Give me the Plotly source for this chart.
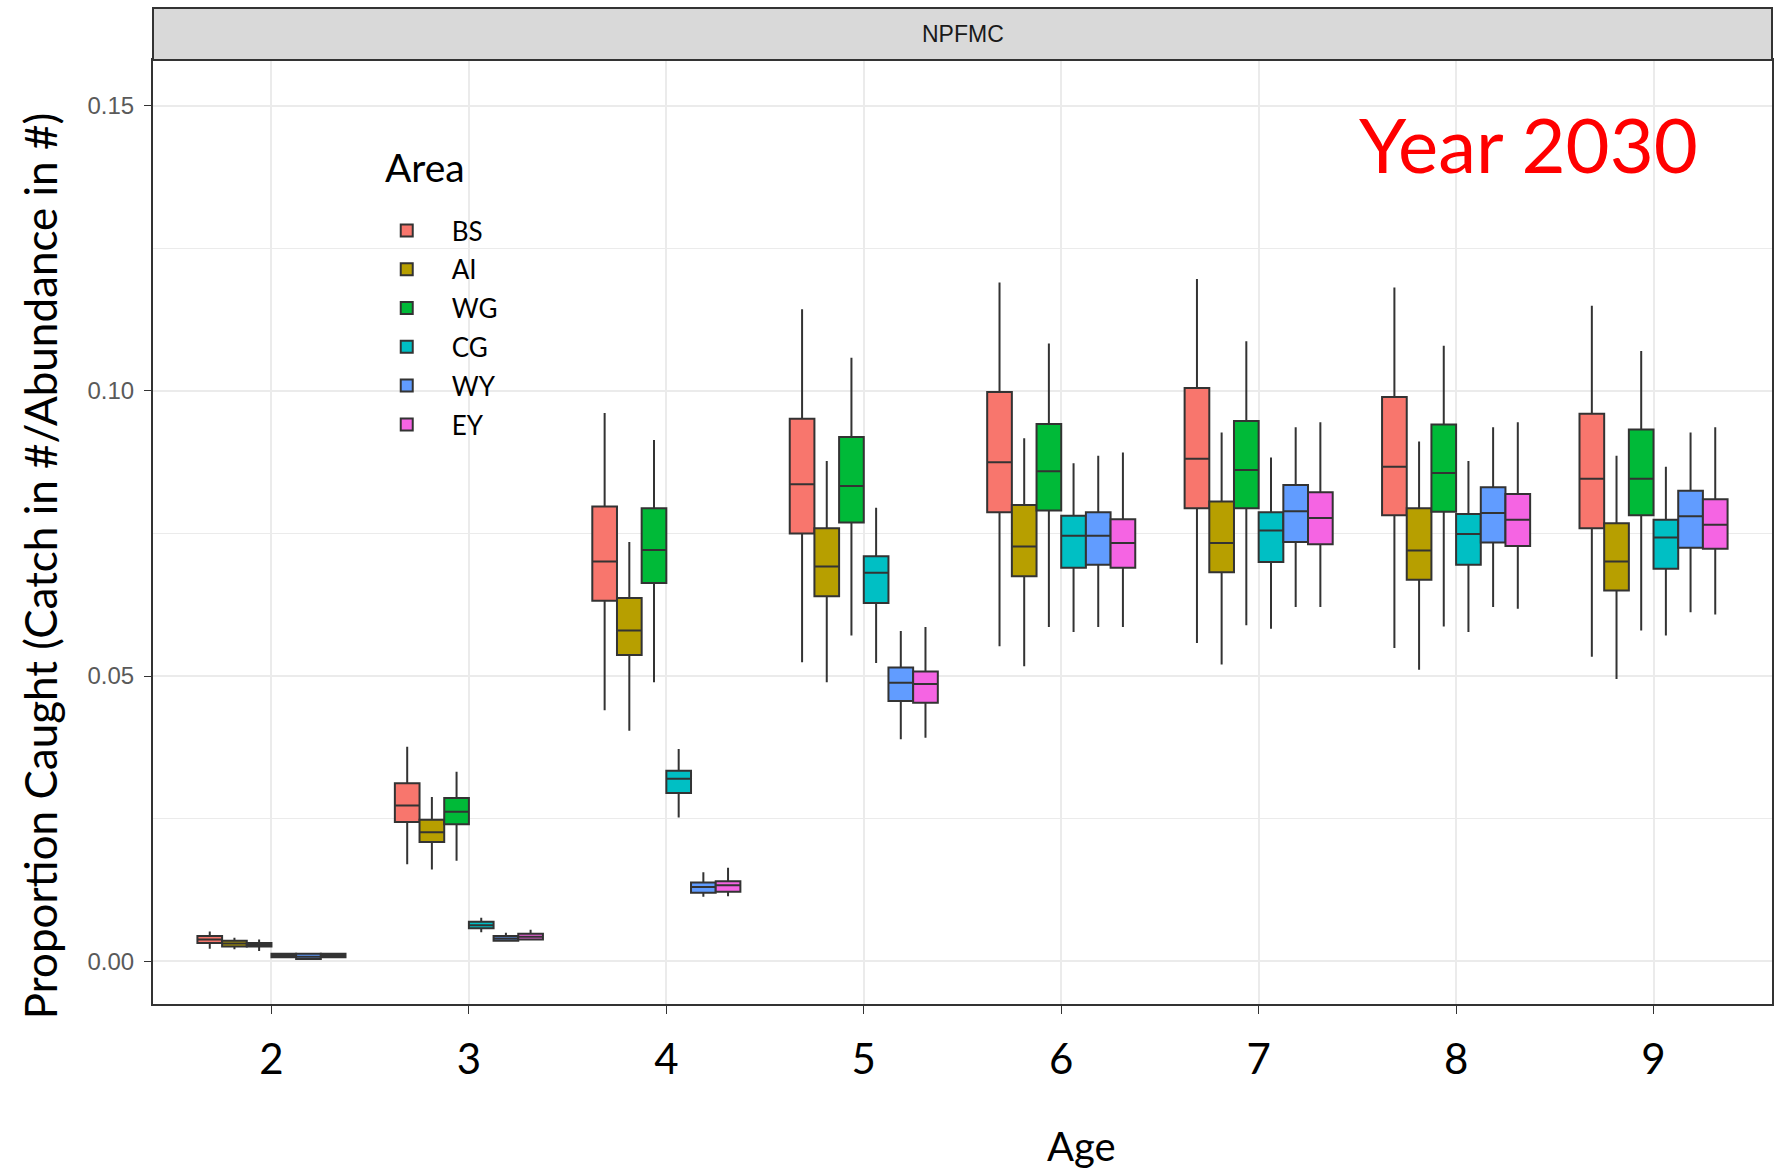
import plotly.graph_objects as go

# Ages on the x axis
ages = [2, 3, 4, 5, 6, 7, 8, 9]

# Areas and their fill colours
areas = ["BS", "AI", "WG", "CG", "WY", "EY"]
area_colors = ["#F8766D", "#B79F00", "#00BA38", "#00BFC4", "#619CFF", "#F564E3"]

# Box-plot statistics per area (proportion caught), one value per age 2..9
lower_whisker = {
    "BS": [0.0022, 0.0170, 0.0440, 0.0524, 0.0552, 0.0558, 0.0549, 0.0534],
    "AI": [0.0021, 0.0161, 0.0404, 0.0489, 0.0517, 0.0520, 0.0511, 0.0495],
    "WG": [0.0018, 0.0176, 0.0489, 0.0571, 0.0586, 0.0589, 0.0587, 0.0580],
    "CG": [0.0006, 0.0051, 0.0252, 0.0523, 0.0577, 0.0583, 0.0577, 0.0571],
    "WY": [0.0002, 0.0035, 0.0113, 0.0389, 0.0586, 0.0621, 0.0621, 0.0612],
    "EY": [0.0005, 0.0037, 0.0114, 0.0392, 0.0586, 0.0621, 0.0618, 0.0608],
}
quartile_1 = {
    "BS": [0.0032, 0.0244, 0.0632, 0.0750, 0.0787, 0.0794, 0.0782, 0.0759],
    "AI": [0.0026, 0.0209, 0.0537, 0.0640, 0.0675, 0.0682, 0.0669, 0.0650],
    "WG": [0.0026, 0.0240, 0.0663, 0.0769, 0.0790, 0.0794, 0.0788, 0.0782],
    "CG": [0.0007, 0.0058, 0.0295, 0.0628, 0.0690, 0.0700, 0.0695, 0.0688],
    "WY": [0.0004, 0.0036, 0.0120, 0.0456, 0.0695, 0.0735, 0.0734, 0.0725],
    "EY": [0.0007, 0.0038, 0.0122, 0.0453, 0.0690, 0.0731, 0.0728, 0.0723],
}
medians = {
    "BS": [0.0038, 0.0273, 0.0701, 0.0836, 0.0875, 0.0881, 0.0867, 0.0846],
    "AI": [0.0031, 0.0226, 0.0580, 0.0692, 0.0727, 0.0733, 0.0720, 0.0701],
    "WG": [0.0029, 0.0262, 0.0721, 0.0833, 0.0859, 0.0861, 0.0856, 0.0846],
    "CG": [0.0010, 0.0063, 0.0320, 0.0681, 0.0746, 0.0755, 0.0749, 0.0743],
    "WY": [0.0008, 0.0040, 0.0130, 0.0488, 0.0746, 0.0789, 0.0786, 0.0780],
    "EY": [0.0010, 0.0043, 0.0133, 0.0486, 0.0733, 0.0777, 0.0774, 0.0765],
}
quartile_3 = {
    "BS": [0.0044, 0.0312, 0.0797, 0.0951, 0.0998, 0.1005, 0.0989, 0.0960],
    "AI": [0.0036, 0.0248, 0.0637, 0.0759, 0.0800, 0.0806, 0.0794, 0.0768],
    "WG": [0.0032, 0.0286, 0.0794, 0.0919, 0.0942, 0.0947, 0.0941, 0.0932],
    "CG": [0.0013, 0.0069, 0.0334, 0.0710, 0.0781, 0.0787, 0.0784, 0.0774],
    "WY": [0.0013, 0.0044, 0.0138, 0.0515, 0.0787, 0.0835, 0.0831, 0.0825],
    "EY": [0.0013, 0.0048, 0.0140, 0.0508, 0.0775, 0.0822, 0.0819, 0.0810],
}
upper_whisker = {
    "BS": [0.0052, 0.0376, 0.0961, 0.1143, 0.1190, 0.1196, 0.1181, 0.1149],
    "AI": [0.0041, 0.0288, 0.0735, 0.0877, 0.0917, 0.0927, 0.0911, 0.0886],
    "WG": [0.0038, 0.0332, 0.0914, 0.1058, 0.1083, 0.1087, 0.1079, 0.1070],
    "CG": [0.0014, 0.0076, 0.0372, 0.0795, 0.0873, 0.0883, 0.0877, 0.0867],
    "WY": [0.0015, 0.0050, 0.0156, 0.0579, 0.0886, 0.0936, 0.0936, 0.0927],
    "EY": [0.0015, 0.0055, 0.0164, 0.0586, 0.0892, 0.0945, 0.0945, 0.0936],
}

y_ticks = [0.0, 0.05, 0.10, 0.15]
y_tick_text = ["0.00", "0.05", "0.10", "0.15"]

W, H = 1777, 1174
M_L, M_R, M_T, M_B = 153, 3, 60, 170
plot_w = W - M_L - M_R
plot_h = H - M_T - M_B


def px_x(px):
    return (px - M_L) / plot_w


def px_y(py):
    return (H - M_B - py) / plot_h


fig = go.Figure()
for area, color in zip(areas, area_colors):
    fig.add_trace(go.Box(
        x=ages,
        lowerfence=lower_whisker[area],
        q1=quartile_1[area],
        median=medians[area],
        q3=quartile_3[area],
        upperfence=upper_whisker[area],
        name=area,
        legendgroup=area,
        fillcolor=color,
        line=dict(color="#333333", width=2),
        whiskerwidth=0,
        boxpoints=False,
    ))

grid = "#EBEBEB"
fig.update_layout(
    width=W, height=H,
    margin=dict(l=M_L, r=M_R, t=M_T, b=M_B),
    paper_bgcolor="white",
    plot_bgcolor="white",
    boxmode="group",
    boxgap=0.25,
    boxgroupgap=0,
    font=dict(family="Lato", color="black"),
    xaxis=dict(
        range=[1.4, 9.6],
        tickvals=ages,
        ticktext=[str(a) for a in ages],
        tickfont=dict(family="Lato", size=42, color="black"),
        ticks="outside", ticklen=8, tickcolor="#333333", tickwidth=1,
        ticklabelstandoff=10,
        showgrid=True, gridcolor=grid, gridwidth=1.5,
        showline=True, linecolor="#333333", linewidth=2, mirror=True,
        zeroline=False,
    ),
    yaxis=dict(
        range=[-0.0075, 0.158],
        tickvals=y_ticks,
        ticktext=y_tick_text,
        tickfont=dict(family="Liberation Sans", size=24, color="#5A5A5A"),
        ticks="outside", ticklen=7, tickcolor="#333333", tickwidth=1,
        ticklabelstandoff=5,
        showgrid=True, gridcolor=grid, gridwidth=1.5,
        minor=dict(tick0=0.025, dtick=0.05, showgrid=True, gridcolor=grid, gridwidth=1),
        showline=True, linecolor="#333333", linewidth=2, mirror=True,
        zeroline=False,
    ),
    legend=dict(
        x=px_x(362), y=px_y(207), xanchor="left", yanchor="top",
        bgcolor="rgba(0,0,0,0)",
        font=dict(family="Lato", size=26, color="black"),
        tracegroupgap=2,
        itemwidth=80,
    ),
    showlegend=True,
)

# White backdrop behind the legend block
fig.add_shape(type="rect", xref="paper", yref="paper", layer="below",
              x0=px_x(370), x1=px_x(582), y0=px_y(458), y1=px_y(127),
              fillcolor="white", line=dict(width=0))

# Facet strip above the panel
fig.add_shape(type="rect", xref="paper", yref="paper",
              x0=0, x1=1, y0=1, y1=px_y(8),
              fillcolor="#D9D9D9", line=dict(color="#333333", width=2))
fig.add_annotation(text="NPFMC", xref="paper", yref="paper",
                   x=0.5, y=px_y(34), xanchor="center", yanchor="middle",
                   showarrow=False,
                   font=dict(family="Liberation Sans", size=23, color="#1A1A1A"))

fig.add_annotation(text="Area", xref="paper", yref="paper",
                   x=px_x(383), y=px_y(167), xanchor="left", yanchor="middle",
                   showarrow=False,
                   font=dict(family="Lato", size=39, color="black"))

fig.add_annotation(text="Year 2030", xref="paper", yref="paper",
                   x=px_x(1530), y=px_y(143), xanchor="center", yanchor="middle",
                   showarrow=False,
                   font=dict(family="Lato", size=76, color="#FF0000"))

fig.add_annotation(text="Proportion Caught (Catch in #/Abundance in #)",
                   xref="paper", yref="paper", textangle=-90,
                   x=px_x(40), y=px_y(566), xanchor="center", yanchor="middle",
                   showarrow=False,
                   font=dict(family="Lato", size=44, color="black"))

fig.add_annotation(text="Age", xref="paper", yref="paper",
                   x=px_x(1083), y=px_y(1146), xanchor="center", yanchor="middle",
                   showarrow=False,
                   font=dict(family="Lato", size=40, color="black"))

fig.write_html("out.html")
